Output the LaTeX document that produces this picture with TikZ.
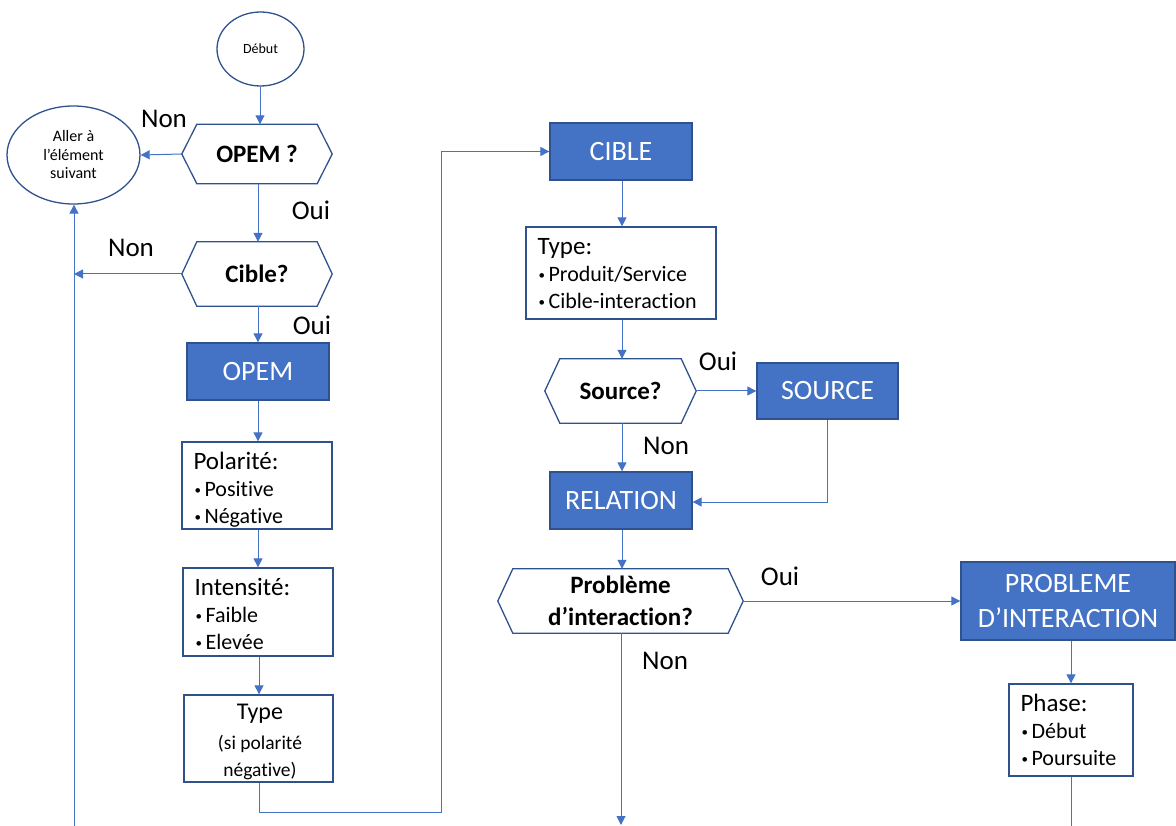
\documentclass[tikz,border=0pt]{standalone}
\usepackage{fontspec}
\setmainfont{Carlito}[Ligatures={NoCommon}]
\usetikzlibrary{shapes.geometric,arrows.meta,calc}
\definecolor{fillblue}{HTML}{4472C4}
\definecolor{edgeblue}{HTML}{2F528F}
\definecolor{lineblue}{HTML}{4472C4}
\newcommand\fsz[2]{\fontsize{#1}{#2}\selectfont}
\newcommand\bul{\hbox to 10pt{\raisebox{2pt}{\fsz{13}{13}•}\hss}}
\newcommand\listbox[4]{%
  \node[txt, anchor=base west, font=\fsz{25}{30}] (#1t) at ([shift={(12,28)}]#1.north west) {#2};
  \node[txt, anchor=base west, font=\fsz{22}{26}] (#1a) at ([shift={(13,55)}]#1.north west) {\bul #3};
  \node[txt, anchor=base west, font=\fsz{22}{26}] (#1b) at ([shift={(13,82)}]#1.north west) {\bul #4};
}
\begin{document}
\begin{tikzpicture}[x=1pt,y=-1pt,
  txt/.style={inner sep=0pt},
  bluebox/.style={draw=edgeblue, fill=fillblue, line width=1.3pt, text=white, font=\fsz{28}{35}, align=center, inner sep=0pt},
  whitebox/.style={draw=edgeblue, fill=white, line width=1.3pt, inner sep=0pt},
  oval/.style={ellipse, draw=edgeblue, line width=1.3pt, inner sep=0pt, align=center},
  hexq/.style={inner sep=0pt, font=\bfseries\fsz{25}{32}, align=center},
  hexline/.style={draw=edgeblue, line width=1.3pt, line join=miter},
  conn/.style={draw=lineblue, line width=1pt},
  arr/.style={conn, -{Triangle[length=9pt,width=9pt]}},
  lab/.style={inner sep=0pt, font=\fsz{27}{30}}]
\useasboundingbox (0,0) rectangle (1176,826);

% nodes
\node[oval, minimum width=87pt, minimum height=74pt, font=\fsz{14}{17}] (debut) at (260.5,49) {Début};
\node[oval, minimum width=133pt, minimum height=98pt, font=\fsz{16}{18.5}] (aller) at (73.5,155) {Aller à\\l’élément\\suivant};
\node[hexq, minimum width=150pt, minimum height=59pt] (q1) at (257,154) {OPEM ?};
\node[hexq, minimum width=150pt, minimum height=64pt] (q2) at (257,274) {Cible?};
\node[bluebox, minimum width=142pt, minimum height=57pt] (opem) at (258,371.5) {OPEM};
\node[whitebox, minimum width=150pt, minimum height=87pt] (pol) at (257,485.5) {};
\node[whitebox, minimum width=150pt, minimum height=88pt] (int) at (258,612) {};
\node[whitebox, minimum width=149pt, minimum height=87pt] (typ) at (258.5,738.5) {};
\node[bluebox, minimum width=142pt, minimum height=57pt] (cible) at (621,151.5) {CIBLE};
\node[whitebox, minimum width=190pt, minimum height=92pt] (type2) at (621,273) {};
\node[hexq, minimum width=151pt, minimum height=64pt] (q3) at (620.5,391) {Source?};
\node[bluebox, minimum width=141pt, minimum height=56pt] (source) at (827.5,391) {SOURCE};
\node[bluebox, minimum width=142pt, minimum height=57pt] (relation) at (621,500.5) {RELATION};
\node[hexq, minimum width=245pt, minimum height=64pt] (q4) at (620.5,601) {Problème\\d’interaction?};
\node[bluebox, minimum width=214pt, minimum height=78pt] (prob) at (1068,601) {PROBLEME\\D’INTERACTION};
\node[whitebox, minimum width=124pt, minimum height=92pt] (phase) at (1071,730) {};

% hexagon outlines
\foreach \n in {q1,q2,q3,q4}
  \draw[hexline] (\n.west) -- ([shift={(15,0)}]\n.north west) -- ([shift={(-15,0)}]\n.north east)
    -- (\n.east) -- ([shift={(-15,0)}]\n.south east) -- ([shift={(15,0)}]\n.south west) -- cycle;

% box texts
\listbox{pol}{Polarité:}{Positive}{Négative}
\listbox{int}{Intensité:}{Faible}{Elevée}
\listbox{type2}{Type:}{Produit/Service}{Cible-interaction}
\listbox{phase}{Phase:}{Début}{Poursuite}
\node[txt, anchor=base, font=\fsz{24}{28}] (typa) at ([shift={(1.5,25.5)}]typ.north) {Type};
\node[txt, anchor=base, font=\fsz{19.5}{24}] (typb) at ([shift={(1.5,55)}]typ.north) {(si polarité};
\node[txt, anchor=base, font=\fsz{19.5}{24}] (typc) at ([shift={(1.5,82)}]typ.north) {négative)};

% labels
\node[lab] (l1) at (164,119) {Non};
\node[lab] (l2) at (311,210) {Oui};
\node[lab] (l3) at (131,248) {Non};
\node[lab] (l4) at (312,325) {Oui};
\node[lab] (l5) at (718,361) {Oui};
\node[lab] (l6) at (666,446) {Non};
\node[lab] (l7) at (780,576) {Oui};
\node[lab] (l8) at (665,661) {Non};

% coordinates
\coordinate (lbot) at (74,826);
\coordinate (j1) at (441,812);
\coordinate (nbot) at (621,825);
\coordinate (pbot) at (1071,826);

% connectors
\draw[arr] (debut.south -| 260,0) -- (q1.north -| 260,0);
\draw[arr] (q1.west) -- (aller.east);
\draw[arr] (q1.south -| opem.north) -- (q2.north -| opem.north);
\draw[arr] (lbot) -- (aller.south -| lbot);
\draw[arr] (q2.west) -- (q2.west -| lbot);
\draw[arr] (q2.south -| opem.north) -- (opem.north);
\draw[arr] (opem.south) -- (pol.north -| opem.south);
\draw[arr] (pol.south -| opem.south) -- (int.north -| opem.south);
\draw[arr] (int.south -| 259,0) -- (typ.north -| 259,0);
\draw[arr] (typ.south -| 259,0) |- (j1) |- (cible.west);
\draw[arr] (cible.south -| 622,0) -- (type2.north -| 622,0);
\draw[arr] (type2.south -| 622,0) -- (q3.north -| 622,0);
\draw[arr] (q3.east) -- (source.west);
\draw[arr] (q3.south -| 622,0) -- (relation.north -| 622,0);
\draw[arr] (source.south) |- ([shift={(0,1.5)}]relation.east);
\draw[arr] (relation.south -| 622,0) -- (q4.north -| 622,0);
\draw[arr] (q4.east) -- (prob.west);
\draw[arr] (q4.south -| nbot) -- (nbot);
\draw[arr] (prob.south -| phase.north) -- (phase.north);
\draw[conn] (phase.south) -- (pbot);
\end{tikzpicture}
\end{document}
